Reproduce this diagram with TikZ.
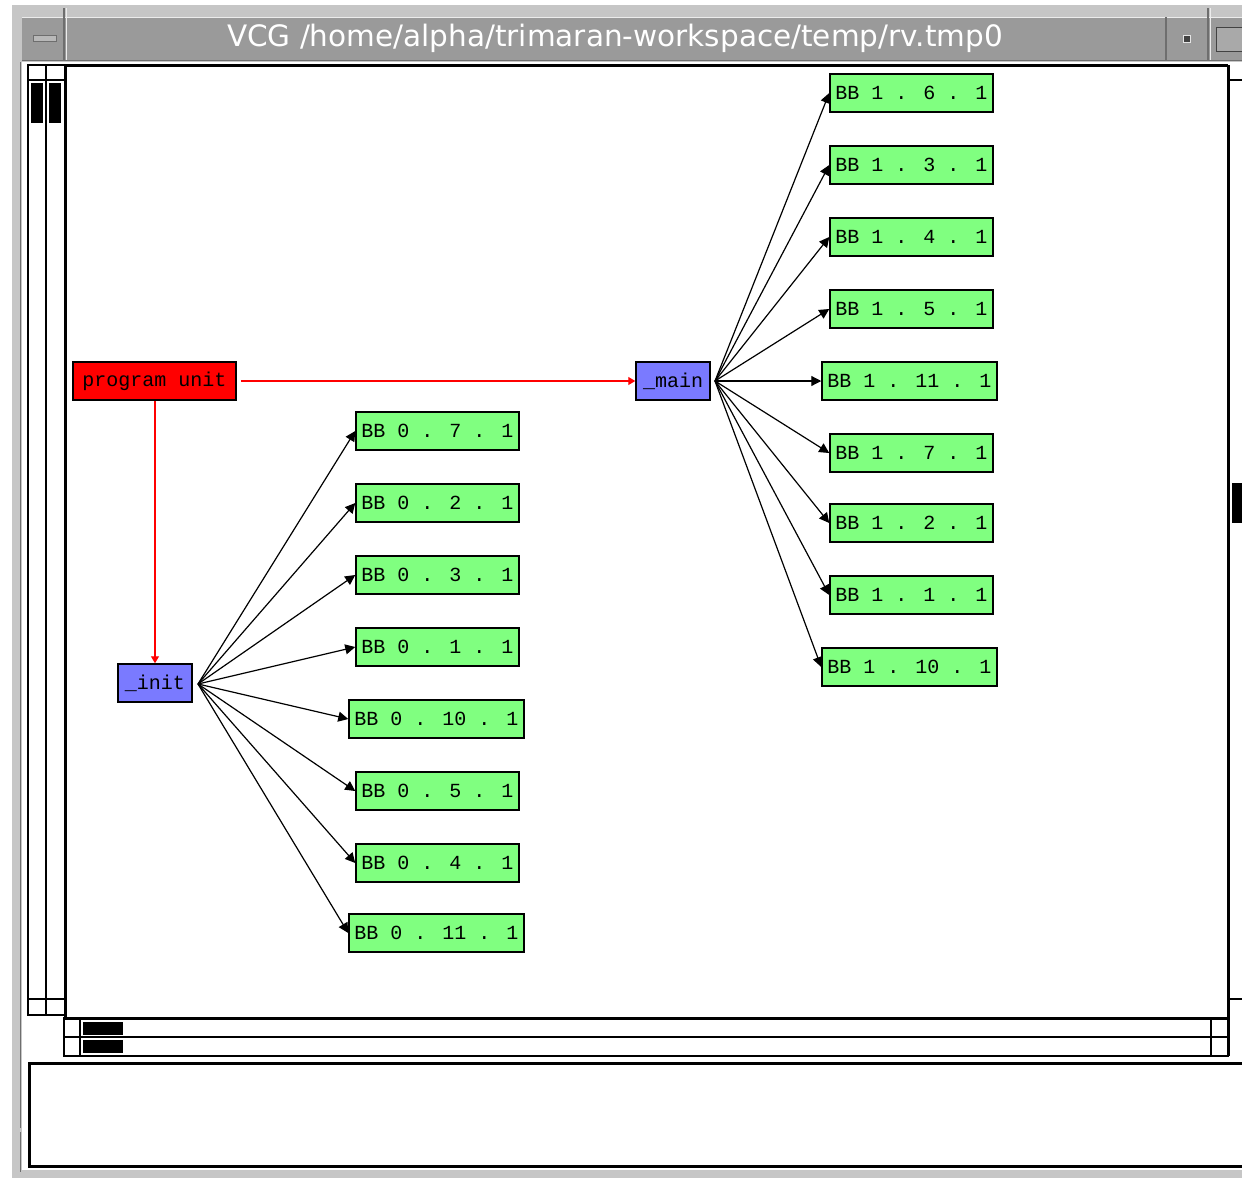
\documentclass[tikz,border=0pt]{standalone}
\usepackage{fontspec}
\newfontfamily\vcgmono{Liberation Mono}
\newfontfamily\vcgtitle{DejaVu Sans}
\usetikzlibrary{arrows.meta}
\definecolor{framegray}{RGB}{198,198,198}
\definecolor{titlegray}{RGB}{154,154,154}
\definecolor{edgegray}{RGB}{110,110,110}
\definecolor{bbgreen}{RGB}{128,255,128}
\definecolor{fnblue}{RGB}{122,122,255}
\definecolor{unitred}{RGB}{255,0,0}
\tikzset{
  box/.style={draw=black, line width=1.5pt, minimum height=38pt, inner sep=0pt,
    font=\vcgmono\fontsize{20}{20}\selectfont, text=black},
  bbnode/.style={box, fill=bbgreen, minimum width=163pt},
  bbwide/.style={box, fill=bbgreen, minimum width=175pt},
  fnnode/.style={box, fill=fnblue, minimum width=74pt},
  unitnode/.style={box, fill=unitred, minimum width=163pt},
  edge/.style={black, line width=1.2pt, -{Triangle[length=10pt,width=10pt]}},
  rededge/.style={red, line width=1.2pt, -{Triangle[length=7pt,width=8pt]}},
  frameline/.style={black, line width=1.5pt},
  heavyline/.style={black, line width=3pt},
}
\begin{document}
\begin{tikzpicture}[x=1pt,y=-1pt]
\useasboundingbox (0,0) rectangle (1242,1178);
\begin{scope}
\clip (0,0) rectangle (1242,1178);
\fill[white] (0,0) rectangle (1242,1178);

% window frame and title bar
\fill[framegray] (12,5) rectangle (1242,1178);
\draw[edgegray, line width=1pt] (20,62) -- (20,1128);
\draw[edgegray, line width=1pt] (20,1132) -- (20,1172);
\fill[white] (22,62) rectangle (1242,1170);
\fill[titlegray] (22,17) rectangle (1242,60);
\draw[white!85!gray, line width=1pt] (22,17) -- (1242,17);
\draw[edgegray, line width=1pt] (22,60) -- (1242,60);
\draw[edgegray, line width=1.2pt] (64,8) -- (64,60);
\draw[white!85!gray, line width=1pt] (66,8) -- (66,60);
\draw[edgegray, line width=1.2pt] (1166,17) -- (1166,60);
\draw[edgegray, line width=1.2pt] (1208,8) -- (1208,60);
\draw[white!85!gray, line width=1pt] (1210,8) -- (1210,60);

% title bar buttons
\draw[fill=titlegray!70!white, draw=edgegray, line width=1pt] (33,35) rectangle (56,41);
\draw[fill=edgegray!60!black, draw=white!80!gray, line width=0.8pt] (1183,35) rectangle (1190,42);
\draw[fill=titlegray!85!white, draw=edgegray!60!black, line width=1pt] (1216,27) rectangle (1250,51);

\node[font=\vcgtitle\fontsize{29.5}{29.5}\selectfont, text=white] (title) at (615,38)
  {VCG /home/alpha/trimaran-workspace/temp/rv.tmp0};

% left scroll bars
\draw[frameline] (28,65) rectangle (46,1015);
\draw[frameline] (46,65) rectangle (65,1015);
\draw[frameline] (28,80) -- (65,80);
\draw[frameline] (28,999) -- (65,999);
\fill[black] (31,83) rectangle (43,123);
\fill[black] (49,83) rectangle (61,123);

% bottom scroll bars
\draw[frameline] (64,1018) rectangle (1228,1056);
\draw[frameline] (64,1037) -- (1228,1037);
\draw[frameline] (80,1018) -- (80,1056);
\draw[frameline] (1211,1018) -- (1211,1056);
\fill[black] (83,1022) rectangle (123,1035);
\fill[black] (83,1040) rectangle (123,1053);

% right panel
\draw[frameline] (1228,80) -- (1242,80);
\draw[frameline] (1228,999) -- (1242,999);
\fill[black] (1232,483) rectangle (1242,523);

% drawing canvas
\draw[heavyline] (65,65) -- (1228,65);
\draw[heavyline] (65,65) -- (65,1018) -- (1228,1018);
\draw[heavyline] (1228,65) -- (1228,1056);

% message area
\draw[heavyline] (29,1063) rectangle (1260,1166);
\end{scope}

% graph nodes
\node[unitnode] (unit) at (154.5,381) {program unit};
\node[fnnode] (main) at (673,381) {\_main};
\node[fnnode] (init) at (155,683) {\_init};

\node[bbnode] (b16)  at (911.5,93)  {BB 1 . 6 . 1};
\node[bbnode] (b13)  at (911.5,165) {BB 1 . 3 . 1};
\node[bbnode] (b14)  at (911.5,237) {BB 1 . 4 . 1};
\node[bbnode] (b15)  at (911.5,309) {BB 1 . 5 . 1};
\node[bbwide] (b111) at (909.5,381) {BB 1 . 11 . 1};
\node[bbnode] (b17)  at (911.5,453) {BB 1 . 7 . 1};
\node[bbnode] (b12)  at (911.5,523) {BB 1 . 2 . 1};
\node[bbnode] (b11)  at (911.5,595) {BB 1 . 1 . 1};
\node[bbwide] (b110) at (909.5,667) {BB 1 . 10 . 1};

\node[bbnode] (a07)  at (437.5,431) {BB 0 . 7 . 1};
\node[bbnode] (a02)  at (437.5,503) {BB 0 . 2 . 1};
\node[bbnode] (a03)  at (437.5,575) {BB 0 . 3 . 1};
\node[bbnode] (a01)  at (437.5,647) {BB 0 . 1 . 1};
\node[bbwide] (a010) at (436.5,719) {BB 0 . 10 . 1};
\node[bbnode] (a05)  at (437.5,791) {BB 0 . 5 . 1};
\node[bbnode] (a04)  at (437.5,863) {BB 0 . 4 . 1};
\node[bbwide] (a011) at (436.5,933) {BB 0 . 11 . 1};

% edge origins next to the call nodes
\coordinate (mo) at (715,381);
\coordinate (io) at (198,684);

% red edges from the program unit
\draw[rededge] ([xshift=4pt]unit.east) -- (main.west);
\draw[rededge] (init.north |- unit.south) -- (init.north);

% edges from _main
\foreach \t in {b16,b13,b14,b15,b111,b17,b12,b11,b110}
  \draw[edge] (mo) -- (\t.west);

% edges from _init
\foreach \t in {a07,a02,a03,a01,a010,a05,a04,a011}
  \draw[edge] (io) -- (\t.west);
\end{tikzpicture}
\end{document}
